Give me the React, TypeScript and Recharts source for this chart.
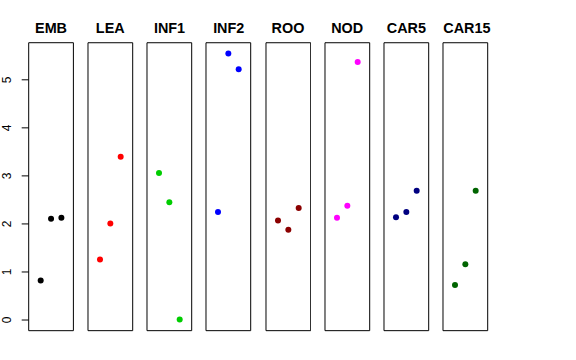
import { ScatterChart, Scatter, XAxis, YAxis, ReferenceArea } from 'recharts';

const PANELS = ['EMB', 'LEA', 'INF1', 'INF2', 'ROO', 'NOD', 'CAR5', 'CAR15'];
const COLORS = ['#000000', '#FF0000', '#00CD00', '#0000FF', '#8B0000', '#FF00FF', '#000080', '#006400'];

// three replicate values per tissue
const EMB = [0.82, 2.11, 2.13];
const LEA = [1.26, 2.01, 3.4];
const INF1 = [3.06, 2.45, 0.01];
const INF2 = [2.25, 5.55, 5.22];
const ROO = [2.07, 1.88, 2.33];
const NOD = [2.13, 2.38, 5.37];
const CAR5 = [2.14, 2.25, 2.69];
const CAR15 = [0.73, 1.16, 2.69];

const VALUES = [EMB, LEA, INF1, INF2, ROO, NOD, CAR5, CAR15];
const Y_TICKS = [0, 1, 2, 3, 4, 5];

const X_DOMAIN: [number, number] = [-0.16, 4.16];
const Y_DOMAIN: [number, number] = [-0.222, 5.772];

const FONT = '"Liberation Sans", Arial, sans-serif';
const BOX_LEFT = 28.7;
const BOX_STEP = 59.23;
const BOX_W = 44.7;
const BOX_TOP = 42.7;
const BOX_BOTTOM = 330.7;
const AXIS_W = 28.7;

const YTick = (props: any) => {
  const { x, y, payload } = props;
  return (
    <text
      transform={`translate(${x - 10.7},${y}) rotate(-90)`}
      textAnchor="middle"
      fontSize={12}
      fontFamily={FONT}
      fill="#000"
    >
      {payload.value}
    </text>
  );
};

const Dot = (color: string) => (props: any) => (
  <circle cx={props.cx} cy={props.cy} r={3} fill={color} />
);

function Panel({ index }: { index: number }) {
  const first = index === 0;
  const data = VALUES[index].map((v, i) => ({ x: i + 1, y: v }));
  const boxLeft = BOX_LEFT + BOX_STEP * index;
  const left = first ? 0 : boxLeft - 1;
  const width = first ? AXIS_W + BOX_W + 1 : BOX_W + 2;

  return (
    <div style={{ position: 'absolute', left, top: 0 }}>
      <div
        style={{
          position: 'absolute',
          left: first ? AXIS_W : 1,
          width: BOX_W,
          top: 19,
          textAlign: 'center',
          fontFamily: FONT,
          fontWeight: 'bold',
          fontSize: 14.4,
          lineHeight: '18px',
          whiteSpace: 'nowrap',
        }}
      >
        {PANELS[index]}
      </div>
      <ScatterChart
        width={width}
        height={360}
        margin={{ top: BOX_TOP, bottom: 360 - BOX_BOTTOM, left: first ? 0 : 1, right: 1 }}
      >
        <XAxis type="number" dataKey="x" domain={X_DOMAIN} allowDataOverflow hide />
        <YAxis
          type="number"
          dataKey="y"
          domain={Y_DOMAIN}
          allowDataOverflow
          hide={!first}
          width={AXIS_W}
          ticks={Y_TICKS}
          interval={0}
          tickSize={7}
          tickMargin={0}
          axisLine={false}
          tickLine={{ stroke: '#000' }}
          tick={<YTick />}
        />
        <ReferenceArea
          x1={X_DOMAIN[0]}
          x2={X_DOMAIN[1]}
          y1={Y_DOMAIN[0]}
          y2={Y_DOMAIN[1]}
          fill="none"
          fillOpacity={0}
          stroke="#000"
          strokeWidth={1}
        />
        <Scatter data={data} shape={Dot(COLORS[index])} isAnimationActive={false} />
      </ScatterChart>
    </div>
  );
}

export default function App() {
  return (
    <div style={{ position: 'absolute', left: 0, top: 0, width: 576, height: 360, background: '#fff' }}>
      {PANELS.map((_, i) => (
        <Panel key={i} index={i} />
      ))}
    </div>
  );
}
